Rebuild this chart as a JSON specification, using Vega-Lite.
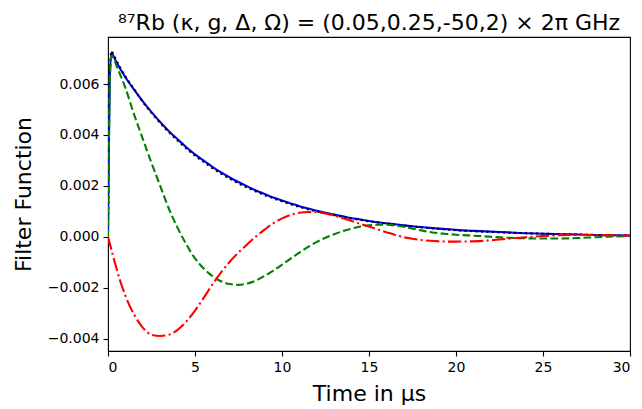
{
  "$schema": "https://vega.github.io/schema/vega-lite/v6.json",
  "width": 522,
  "height": 314,
  "autosize": {"type": "none"},
  "padding": {"left": 108, "top": 37, "right": 12, "bottom": 58},
  "background": "white",
  "title": {
    "text": "⁸⁷Rb (κ, g, Δ, Ω) = (0.05,0.25,-50,2) × 2π GHz",
    "font": "DejaVu Sans",
    "fontSize": 22,
    "fontWeight": "normal",
    "color": "black",
    "anchor": "middle",
    "offset": 2
  },
  "config": {
    "view": {"stroke": "black", "strokeWidth": 1.1},
    "axis": {
      "domain": false,
      "grid": false,
      "ticks": true,
      "tickColor": "black",
      "tickWidth": 1.1,
      "tickSize": 5,
      "labelFont": "DejaVu Sans",
      "labelFontSize": 14,
      "labelColor": "black",
      "labelPadding": 4,
      "titleFont": "DejaVu Sans",
      "titleFontSize": 22,
      "titleFontWeight": "normal",
      "titleColor": "black"
    }
  },
  "data": {
    "values": [
      {"t": 0, "b": 0, "k": 0, "g": 0, "r": 0},
      {"t": 0.05, "b": 0.0035, "k": 0.0036, "g": 0.0034, "r": -0.00013},
      {"t": 0.1, "b": 0.0062, "k": 0.0063, "g": 0.006, "r": -0.00026},
      {"t": 0.2, "b": 0.00725, "k": 0.0073, "g": 0.0071, "r": -0.00052},
      {"t": 0.3, "b": 0.00712, "k": 0.00718, "g": 0.00705, "r": -0.00078},
      {"t": 0.5, "b": 0.00685, "k": 0.0069, "g": 0.0067, "r": -0.00128},
      {"t": 1, "b": 0.00627, "k": 0.0063, "g": 0.00585, "r": -0.00232},
      {"t": 1.5, "b": 0.00578, "k": 0.0058, "g": 0.0048, "r": -0.00306},
      {"t": 2, "b": 0.00532, "k": 0.0053, "g": 0.00385, "r": -0.00357},
      {"t": 2.5, "b": 0.0049, "k": 0.00487, "g": 0.0029, "r": -0.00385},
      {"t": 3, "b": 0.00451, "k": 0.00447, "g": 0.002, "r": -0.0039},
      {"t": 3.5, "b": 0.00415, "k": 0.00411, "g": 0.0011, "r": -0.00385},
      {"t": 4, "b": 0.00383, "k": 0.00378, "g": 0.00035, "r": -0.00366},
      {"t": 4.5, "b": 0.00352, "k": 0.00347, "g": -0.0003, "r": -0.00333},
      {"t": 5, "b": 0.00324, "k": 0.00319, "g": -0.00085, "r": -0.0029},
      {"t": 5.5, "b": 0.00299, "k": 0.00294, "g": -0.00125, "r": -0.0024},
      {"t": 6, "b": 0.00275, "k": 0.0027, "g": -0.00155, "r": -0.00188},
      {"t": 6.5, "b": 0.00253, "k": 0.00248, "g": -0.00175, "r": -0.0014},
      {"t": 7, "b": 0.00233, "k": 0.00228, "g": -0.00186, "r": -0.00098},
      {"t": 7.5, "b": 0.00215, "k": 0.0021, "g": -0.00189, "r": -0.00062},
      {"t": 8, "b": 0.00198, "k": 0.00193, "g": -0.00184, "r": -0.0003},
      {"t": 8.5, "b": 0.00182, "k": 0.00178, "g": -0.00172, "r": 0.00001},
      {"t": 9, "b": 0.00168, "k": 0.00164, "g": -0.00154, "r": 0.00028},
      {"t": 9.5, "b": 0.00154, "k": 0.00151, "g": -0.00133, "r": 0.00053},
      {"t": 10, "b": 0.00142, "k": 0.00139, "g": -0.0011, "r": 0.00072},
      {"t": 10.5, "b": 0.00131, "k": 0.00128, "g": -0.00086, "r": 0.00086},
      {"t": 11, "b": 0.0012, "k": 0.00117, "g": -0.00062, "r": 0.00094},
      {"t": 11.5, "b": 0.00111, "k": 0.00108, "g": -0.0004, "r": 0.00097},
      {"t": 12, "b": 0.00102, "k": 0.001, "g": -0.0002, "r": 0.00096},
      {"t": 12.5, "b": 0.00094, "k": 0.00092, "g": -0.00004, "r": 0.00091},
      {"t": 13, "b": 0.00087, "k": 0.00085, "g": 0.0001, "r": 0.00083},
      {"t": 13.5, "b": 0.0008, "k": 0.00078, "g": 0.00022, "r": 0.00073},
      {"t": 14, "b": 0.00073, "k": 0.00072, "g": 0.00032, "r": 0.00062},
      {"t": 14.5, "b": 0.00068, "k": 0.00066, "g": 0.0004, "r": 0.00051},
      {"t": 15, "b": 0.00062, "k": 0.00061, "g": 0.00045, "r": 0.0004},
      {"t": 15.5, "b": 0.00057, "k": 0.00056, "g": 0.00047, "r": 0.00029},
      {"t": 16, "b": 0.00053, "k": 0.00052, "g": 0.00047, "r": 0.00018},
      {"t": 16.5, "b": 0.00049, "k": 0.00048, "g": 0.00044, "r": 0.00007},
      {"t": 17, "b": 0.00045, "k": 0.00044, "g": 0.00039, "r": -0.00002},
      {"t": 17.5, "b": 0.00041, "k": 0.0004, "g": 0.00032, "r": -0.00008},
      {"t": 18, "b": 0.00038, "k": 0.00037, "g": 0.00025, "r": -0.00013},
      {"t": 18.5, "b": 0.00035, "k": 0.00034, "g": 0.00019, "r": -0.00016},
      {"t": 19, "b": 0.00032, "k": 0.00031, "g": 0.00014, "r": -0.00018},
      {"t": 19.5, "b": 0.0003, "k": 0.00029, "g": 0.00011, "r": -0.00019},
      {"t": 20, "b": 0.00027, "k": 0.00026, "g": 0.00008, "r": -0.00019},
      {"t": 21, "b": 0.00023, "k": 0.00022, "g": 0.00004, "r": -0.00018},
      {"t": 22, "b": 0.0002, "k": 0.00019, "g": 0, "r": -0.00014},
      {"t": 23, "b": 0.00017, "k": 0.00016, "g": -0.00004, "r": -0.00008},
      {"t": 24, "b": 0.00014, "k": 0.00014, "g": -0.00006, "r": -0.00002},
      {"t": 25, "b": 0.00012, "k": 0.00012, "g": -0.00007, "r": 0.00003},
      {"t": 26, "b": 0.0001, "k": 0.0001, "g": -0.00007, "r": 0.00006},
      {"t": 27, "b": 0.00009, "k": 0.00009, "g": -0.00005, "r": 0.00007},
      {"t": 28, "b": 0.00007, "k": 0.00007, "g": -0.00002, "r": 0.00007},
      {"t": 29, "b": 0.00006, "k": 0.00006, "g": 0.00001, "r": 0.00006},
      {"t": 30, "b": 0.00005, "k": 0.00005, "g": 0.00003, "r": 0.00005}
    ]
  },
  "transform": [{"fold": ["b", "k", "g", "r"], "as": ["s", "v"]}],
  "encoding": {
    "x": {
      "field": "t",
      "type": "quantitative",
      "scale": {"domain": [0, 30], "nice": false, "zero": false},
      "axis": {"values": [0, 5, 10, 15, 20, 25, 30], "format": "d", "title": "Time in μs", "titlePadding": 9}
    },
    "y": {
      "field": "v",
      "type": "quantitative",
      "scale": {"domain": [-0.00449, 0.00785], "nice": false, "zero": false},
      "axis": {"values": [-0.004, -0.002, 0, 0.002, 0.004, 0.006], "format": ".3f", "title": "Filter Function", "titlePadding": 12}
    }
  },
  "layer": [
    {
      "transform": [{"filter": "datum.s == 'b'"}],
      "mark": {"type": "line", "color": "#0000ff", "strokeWidth": 2.1, "interpolate": "monotone", "clip": true}
    },
    {
      "transform": [{"filter": "datum.s == 'k'"}],
      "mark": {"type": "line", "color": "#000000", "strokeWidth": 2.1, "strokeDash": [2.1, 3.4], "interpolate": "monotone", "clip": true}
    },
    {
      "transform": [{"filter": "datum.s == 'g'"}],
      "mark": {"type": "line", "color": "#008000", "strokeWidth": 2.1, "strokeDash": [7.7, 3.3], "interpolate": "monotone", "clip": true}
    },
    {
      "transform": [{"filter": "datum.s == 'r'"}],
      "mark": {"type": "line", "color": "#ff0000", "strokeWidth": 2.1, "strokeDash": [13.3, 3.3, 2.1, 3.3], "interpolate": "monotone", "clip": true}
    }
  ]
}
